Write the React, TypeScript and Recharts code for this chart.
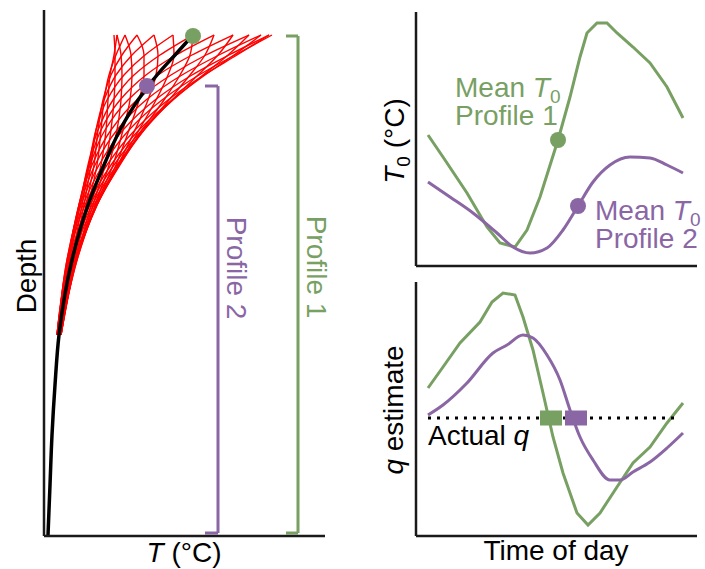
import { ComposedChart, Line, XAxis, YAxis, ReferenceLine, ReferenceDot } from 'recharts';

const GREEN = '#78a063';
const PURPLE = '#8a66a4';
const RED = '#ff0000';
const INK = '#1a1a1a';
const FONT = '"Liberation Sans", Arial, sans-serif';

// left panel: temperature profiles vs depth (arbitrary units)
const depthLevels = [0, 4, 8, 13, 19, 26, 34, 45, 60];
const hourlyProfiles = [
  [22.8, 19.1, 15.5, 11.8, 8.5, 5.9, 3.9, 2.4, 1.3],
  [22.5, 19.3, 16.0, 12.4, 9.1, 6.3, 4.1, 2.4, 1.3],
  [21.7, 19.0, 16.1, 12.8, 9.5, 6.7, 4.4, 2.5, 1.3],
  [20.5, 18.4, 15.9, 12.9, 9.8, 7.0, 4.6, 2.6, 1.3],
  [18.9, 17.4, 15.4, 12.8, 10.0, 7.3, 4.8, 2.7, 1.3],
  [17.0, 16.1, 14.6, 12.5, 10.0, 7.5, 5.0, 2.8, 1.4],
  [14.9, 14.6, 13.6, 12.0, 9.8, 7.6, 5.2, 3.0, 1.4],
  [12.9, 13.0, 12.4, 11.2, 9.5, 7.5, 5.3, 3.1, 1.4],
  [11.0, 11.4, 11.2, 10.4, 9.1, 7.4, 5.3, 3.2, 1.5],
  [9.3, 10.0, 10.0, 9.5, 8.5, 7.2, 5.3, 3.2, 1.5],
  [8.1, 8.7, 8.8, 8.6, 7.9, 6.9, 5.2, 3.3, 1.6],
  [7.3, 7.7, 7.8, 7.7, 7.3, 6.5, 5.1, 3.3, 1.6],
  [7.0, 7.1, 7.1, 7.0, 6.7, 6.1, 4.9, 3.2, 1.7],
  [7.3, 7.0, 6.6, 6.4, 6.2, 5.7, 4.7, 3.2, 1.7],
  [8.1, 7.2, 6.5, 6.0, 5.7, 5.3, 4.4, 3.1, 1.7],
  [9.3, 7.8, 6.7, 5.9, 5.4, 5.0, 4.2, 3.0, 1.7],
  [11.0, 8.8, 7.2, 6.0, 5.2, 4.7, 4.0, 2.9, 1.7],
  [12.9, 10.1, 8.0, 6.3, 5.2, 4.5, 3.8, 2.8, 1.6],
  [14.9, 11.6, 9.0, 6.9, 5.4, 4.4, 3.6, 2.6, 1.6],
  [17.0, 13.2, 10.2, 7.6, 5.7, 4.5, 3.5, 2.5, 1.6],
  [18.9, 14.8, 11.4, 8.4, 6.1, 4.6, 3.5, 2.4, 1.5],
  [20.5, 16.2, 12.7, 9.3, 6.7, 4.8, 3.5, 2.4, 1.5],
  [21.7, 17.5, 13.8, 10.2, 7.3, 5.1, 3.6, 2.3, 1.4],
  [22.5, 18.5, 14.8, 11.1, 7.9, 5.5, 3.7, 2.3, 1.4],
];
const meanDepths = [0, 4, 8, 13, 19, 26, 34, 45, 60, 70, 80, 90, 100];
const meanProfile = [14.9, 13.1, 11.3, 9.4, 7.6, 6.0, 4.4, 2.8, 1.5, 1.1, 0.8, 0.6, 0.4];
const sensorDepths = [0.2, 10.2]; // top of profile 1, profile 2
const sensorTemps = [14.9, 10.3];
const sensorBottom = 99.6;

// top right: surface temperature over the day
const t0TimesP1 = [1.2, 2.7, 5.1, 7.1, 8.4, 9.9, 11.1, 12.4, 14.2, 15.4, 16.4, 17.1, 18.1, 19.1, 20.1, 21.7, 23.4, 25.1, 26.7];
const t0ValuesP1 = [13.1, 10.9, 7.3, 3.9, 2.3, 1.9, 3.6, 6.9, 12.6, 16.9, 20.9, 23.3, 24.3, 24.3, 23.3, 21.9, 20.3, 17.9, 14.8];
const t0TimesP2 = [1.2, 3.4, 5.7, 8.1, 9.7, 11.4, 13.1, 14.7, 16.2, 17.7, 19.4, 21.4, 23.4, 25.1, 26.7];
const t0ValuesP2 = [8.4, 6.9, 5.3, 3.3, 1.9, 1.3, 1.8, 3.6, 6.0, 8.4, 10.1, 10.9, 10.8, 10.1, 9.3];
const meanT0Times = [14.2, 16.2];
const meanT0Values = [12.6, 6.0];

// bottom right: flux estimates over the day
const qTimesP1 = [1.2, 2.7, 4.4, 6.4, 7.6, 8.7, 9.9, 10.7, 11.7, 12.7, 13.7, 14.7, 16.1, 17.2, 18.4, 20.1, 21.7, 23.4, 25.1, 26.7];
const qValuesP1 = [14.8, 16.9, 19.3, 21.4, 23.4, 24.3, 24.1, 21.9, 18.6, 14.3, 9.9, 6.3, 2.3, 1.1, 2.3, 4.9, 7.3, 8.9, 11.3, 13.3];
const qTimesP2 = [1.2, 2.7, 5.1, 7.7, 9.1, 10.7, 11.7, 13.1, 14.4, 15.4, 16.4, 17.7, 19.4, 20.4, 21.7, 23.4, 25.1, 26.7];
const qValuesP2 = [12.1, 13.1, 15.3, 18.3, 19.1, 20.1, 19.8, 18.1, 15.6, 12.6, 9.9, 7.6, 5.6, 5.6, 6.4, 7.4, 8.8, 10.3];
const actualQ = 11.8;
const actualQSpan = [1.2, 26.4];
const crossTimes = [13.5, 16.0];

const profileData = (temps: number[], depths: number[]) => depths.map((d, i) => ({ t: temps[i], d }));
const seriesData = (times: number[], values: number[]) => times.map((t, i) => ({ t, v: values[i] }));

const axisLine = { stroke: INK, strokeWidth: 2.5 };

const Square = (color: string) => (props: any) => (
  <rect x={props.cx - 11} y={props.cy - 7.5} width={22} height={15} fill={color} />
);

const Bracket = ({ x, tick, top, bottom, color }: { x: number; tick: number; top: number; bottom: number; color: string }) => (
  <>
    <ReferenceLine segment={[{ x: tick, y: top }, { x, y: top }]} stroke={color} strokeWidth={3} />
    <ReferenceLine segment={[{ x, y: top }, { x, y: bottom }]} stroke={color} strokeWidth={3} />
    <ReferenceLine segment={[{ x: tick, y: bottom }, { x, y: bottom }]} stroke={color} strokeWidth={3} />
  </>
);

const App = () => {
  return (
    <div style={{ position: 'absolute', left: 0, top: 0, width: 705, height: 569, background: '#fff' }}>
      <div style={{ position: 'absolute', left: 0, top: 0 }}>
        <ComposedChart width={340} height={569} margin={{ top: 10, right: 15, left: 43, bottom: 32 }}>
          <XAxis type="number" dataKey="t" domain={[0, 28.1]} height={1} tick={false} tickLine={false} axisLine={axisLine} allowDataOverflow />
          <YAxis type="number" dataKey="d" domain={[-5, 100.2]} reversed width={1} tick={false} tickLine={false} axisLine={axisLine} allowDataOverflow />
          {hourlyProfiles.map((temps, i) => (
            <Line
              key={`hour-${i}`}
              data={profileData(temps, depthLevels)}
              dataKey="d"
              type="monotoneY"
              stroke={RED}
              strokeWidth={1.4}
              dot={false}
              isAnimationActive={false}
            />
          ))}
          <Line
            data={profileData(meanProfile, meanDepths)}
            dataKey="d"
            type="monotoneY"
            stroke="#000"
            strokeWidth={3.5}
            dot={false}
            isAnimationActive={false}
          />
          {Bracket({ x: 17.4, tick: 16.1, top: sensorDepths[1], bottom: sensorBottom, color: PURPLE })}
          {Bracket({ x: 25.4, tick: 24.2, top: sensorDepths[0], bottom: sensorBottom, color: GREEN })}
          <ReferenceDot x={sensorTemps[0]} y={sensorDepths[0]} r={8} fill={GREEN} stroke="none" />
          <ReferenceDot x={sensorTemps[1]} y={sensorDepths[1]} r={8} fill={PURPLE} stroke="none" />
        </ComposedChart>
      </div>

      <div style={{ position: 'absolute', left: 400, top: 0 }}>
        <ComposedChart width={305} height={280} margin={{ top: 12, right: 8, left: 15, bottom: 13 }}>
          <XAxis type="number" dataKey="t" domain={[0, 28.1]} height={1} tick={false} tickLine={false} axisLine={axisLine} allowDataOverflow />
          <YAxis type="number" domain={[0, 25.4]} width={1} tick={false} tickLine={false} axisLine={axisLine} allowDataOverflow />
          <Line data={seriesData(t0TimesP1, t0ValuesP1)} dataKey="v" type="linear" stroke={GREEN} strokeWidth={3} dot={false} isAnimationActive={false} />
          <Line data={seriesData(t0TimesP2, t0ValuesP2)} dataKey="v" type="monotone" stroke={PURPLE} strokeWidth={3} dot={false} isAnimationActive={false} />
          <ReferenceDot x={meanT0Times[0]} y={meanT0Values[0]} r={8} fill={GREEN} stroke="none" />
          <ReferenceDot x={meanT0Times[1]} y={meanT0Values[1]} r={8} fill={PURPLE} stroke="none" />
        </ComposedChart>
      </div>

      <div style={{ position: 'absolute', left: 400, top: 270 }}>
        <ComposedChart width={305} height={299} margin={{ top: 12, right: 8, left: 15, bottom: 32 }}>
          <XAxis type="number" dataKey="t" domain={[0, 28.1]} height={1} tick={false} tickLine={false} axisLine={axisLine} allowDataOverflow />
          <YAxis type="number" domain={[0, 25.4]} width={1} tick={false} tickLine={false} axisLine={axisLine} allowDataOverflow />
          <Line data={seriesData(qTimesP1, qValuesP1)} dataKey="v" type="linear" stroke={GREEN} strokeWidth={3} dot={false} isAnimationActive={false} />
          <Line data={seriesData(qTimesP2, qValuesP2)} dataKey="v" type="monotone" stroke={PURPLE} strokeWidth={3} dot={false} isAnimationActive={false} />
          <ReferenceLine
            segment={[{ x: actualQSpan[0], y: actualQ }, { x: actualQSpan[1], y: actualQ }]}
            stroke="#000"
            strokeWidth={3}
            strokeDasharray="3 6"
          />
          <ReferenceDot x={crossTimes[0]} y={actualQ} shape={Square(GREEN)} />
          <ReferenceDot x={crossTimes[1]} y={actualQ} shape={Square(PURPLE)} />
        </ComposedChart>
      </div>

      <svg
        width={705}
        height={569}
        style={{ position: 'absolute', left: 0, top: 0, pointerEvents: 'none' }}
        fontFamily={FONT}
        fontSize={28}
      >
        <text transform="translate(36,276) rotate(-90)" textAnchor="middle" fill="#000">Depth</text>
        <text x={184} y={562} textAnchor="middle" fill="#000">
          <tspan fontStyle="italic">T</tspan> (°C)
        </text>
        <text transform="translate(227,268) rotate(90)" textAnchor="middle" fill={PURPLE}>Profile 2</text>
        <text transform="translate(307,267) rotate(90)" textAnchor="middle" fill={GREEN}>Profile 1</text>

        <text transform="translate(404,141) rotate(-90)" textAnchor="middle" fill="#000">
          <tspan fontStyle="italic">T</tspan>
          <tspan dy={6} fontSize={19}>0</tspan>
          <tspan dy={-6}> (°C)</tspan>
        </text>
        <text x={455} y={97} fill={GREEN}>
          Mean <tspan fontStyle="italic">T</tspan>
          <tspan dy={6} fontSize={19}>0</tspan>
        </text>
        <text x={455} y={125} fill={GREEN}>Profile 1</text>
        <text x={595} y={220} fill={PURPLE}>
          Mean <tspan fontStyle="italic">T</tspan>
          <tspan dy={6} fontSize={19}>0</tspan>
        </text>
        <text x={595} y={248} fill={PURPLE}>Profile 2</text>

        <text transform="translate(403,410) rotate(-90)" textAnchor="middle" fill="#000">
          <tspan fontStyle="italic">q</tspan> estimate
        </text>
        <text x={428} y={445} fill="#000">
          Actual <tspan fontStyle="italic">q</tspan>
        </text>
        <text x={556} y={560} textAnchor="middle" fill="#000">Time of day</text>
      </svg>
    </div>
  );
};

export default App;
